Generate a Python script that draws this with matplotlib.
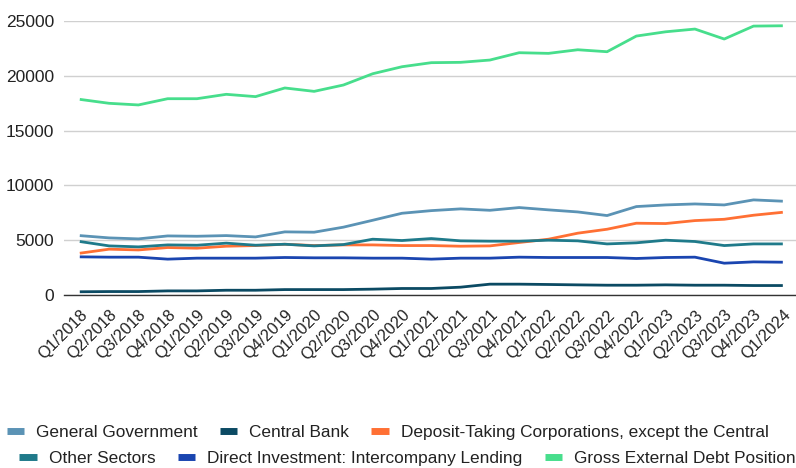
import matplotlib
matplotlib.use("Agg")
import matplotlib.pyplot as plt
from matplotlib.lines import Line2D

quarters = [
    "Q1/2018", "Q2/2018", "Q3/2018", "Q4/2018",
    "Q1/2019", "Q2/2019", "Q3/2019", "Q4/2019",
    "Q1/2020", "Q2/2020", "Q3/2020", "Q4/2020",
    "Q1/2021", "Q2/2021", "Q3/2021", "Q4/2021",
    "Q1/2022", "Q2/2022", "Q3/2022", "Q4/2022",
    "Q1/2023", "Q2/2023", "Q3/2023", "Q4/2023",
    "Q1/2024",
]

general_government = [
    5410, 5200, 5110, 5380, 5350, 5410, 5290, 5750, 5720, 6180, 6810, 7450,
    7690, 7850, 7720, 7970, 7760, 7570, 7240, 8060, 8210, 8300, 8210, 8670,
    8550,
]
central_bank = [
    280, 300, 300, 360, 360, 420, 420, 480, 480, 480, 520, 580,
    580, 700, 975, 975, 945, 910, 880, 880, 910, 880, 880, 850,
    850,
]
deposit_taking = [
    3800, 4170, 4100, 4320, 4260, 4440, 4500, 4620, 4500, 4560, 4560, 4500,
    4500, 4440, 4470, 4780, 5080, 5630, 5990, 6540, 6510, 6780, 6900, 7270,
    7540,
]
other_sectors = [
    4870, 4470, 4380, 4560, 4530, 4720, 4530, 4620, 4470, 4590, 5080, 4960,
    5140, 4930, 4900, 4900, 4990, 4930, 4650, 4750, 4990, 4870, 4500, 4650,
    4650,
]
direct_investment = [
    3470, 3440, 3440, 3260, 3350, 3350, 3350, 3410, 3380, 3380, 3350, 3350,
    3260, 3350, 3350, 3440, 3410, 3410, 3410, 3320, 3410, 3440, 2890, 3010,
    2980,
]
gross_external_debt = [
    17850, 17490, 17340, 17910, 17910, 18310, 18100, 18890, 18580, 19160,
    20190, 20830, 21200, 21230, 21440, 22110, 22050, 22380, 22200, 23630,
    24020, 24270, 23360, 24540, 24570,
]

series = [
    ("General Government", general_government, "#5b93b5"),
    ("Central Bank", central_bank, "#0b4a63"),
    ("Deposit-Taking Corporations, except the Central", deposit_taking, "#ff7034"),
    ("Other Sectors", other_sectors, "#1f7a8a"),
    ("Direct Investment: Intercompany Lending", direct_investment, "#1a45b0"),
    ("Gross External Debt Position", gross_external_debt, "#47de8c"),
]

plt.rcParams["font.family"] = ["Liberation Sans", "DejaVu Sans"]

fig = plt.figure(figsize=(7.96, 4.68), dpi=100)
ax = fig.add_axes([0.080, 0.370, 0.920, 0.585])

x = list(range(len(quarters)))
for name, values, color in series:
    ax.plot(x, values, color=color, linewidth=2.0, solid_capstyle="butt")

ax.set_xlim(-0.55, 24.45)
ax.set_ylim(0, 25000)
ax.set_yticks([0, 5000, 10000, 15000, 20000, 25000])
ax.set_xticks(x)
ax.set_xticklabels(quarters, rotation=45, ha="right", rotation_mode="anchor")
ax.tick_params(axis="both", length=0, colors="#222222")
ax.tick_params(axis="y", labelsize=12.5, pad=7)
ax.tick_params(axis="x", labelsize=11.8, pad=9)
ax.grid(axis="y", color="#d0d0d0", linewidth=1.0)
ax.set_axisbelow(True)
for side in ["top", "right", "left"]:
    ax.spines[side].set_visible(False)
ax.spines["bottom"].set_color("#333333")
ax.spines["bottom"].set_linewidth(1.0)


def legend_row(items, y, cx):
    handles = [Line2D([], [], color=c, linewidth=5, solid_capstyle="butt") for _, _, c in items]
    labels = [n for n, _, _ in items]
    return fig.legend(
        handles, labels, loc="center", bbox_to_anchor=(cx, y), ncol=len(items),
        frameon=False, fontsize=12.4, handlelength=1.0, handletextpad=0.7,
        columnspacing=1.3, labelcolor="#222222",
    )


legend_row(series[:3], 0.075, 0.487)
legend_row(series[3:], 0.021, 0.512)

fig.savefig("out.png", dpi=100)
